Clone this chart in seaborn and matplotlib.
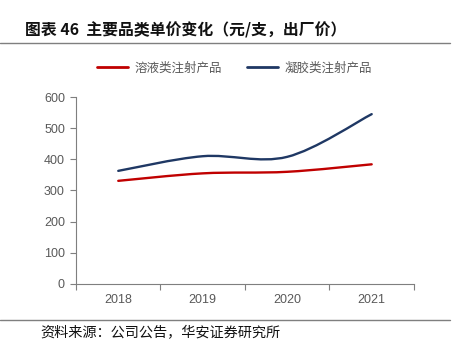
import matplotlib
matplotlib.use("Agg")
import matplotlib.pyplot as plt
import seaborn as sns
import pandas as pd
import numpy as np
from matplotlib.path import Path
from matplotlib.patches import PathPatch
from matplotlib.lines import Line2D

years = ["2018", "2019", "2020", "2021"]
solution = [331, 355, 360, 384]
gel = [363, 410, 408, 545]
series_names = ["溶液类注射产品", "凝胶类注射产品"]
colors = ["#C00000", "#1F3864"]
yticks = [0, 100, 200, 300, 400, 500, 600]

sns.set_theme(style="white")
plt.rcParams['font.family'] = ['Noto Sans CJK SC', 'DejaVu Sans']

df = pd.DataFrame({
    "x": list(range(len(years))) * 2,
    "value": solution + gel,
    "series": [series_names[0]] * len(years) + [series_names[1]] * len(years),
})

fig = plt.figure(figsize=(4.61, 3.53), dpi=100)
ax = fig.add_axes([0.1649, 0.1955, 0.733, 0.5297])

sns.lineplot(data=df, x="x", y="value", hue="series", palette=colors,
             linewidth=1.6, ax=ax, legend=False, sort=False)


def smooth_path(xs, ys, t=0.5):
    xs = np.asarray(xs, float); ys = np.asarray(ys, float)
    n = len(xs)
    verts = [(xs[0], ys[0])]
    codes = [Path.MOVETO]
    for i in range(n - 1):
        p0 = (xs[i - 1], ys[i - 1]) if i > 0 else (xs[i], ys[i])
        p1 = (xs[i], ys[i])
        p2 = (xs[i + 1], ys[i + 1])
        p3 = (xs[i + 2], ys[i + 2]) if i + 2 < n else (xs[i + 1], ys[i + 1])
        c1 = (p1[0] + (p2[0] - p0[0]) * t / 3, p1[1] + (p2[1] - p0[1]) * t / 3)
        c2 = (p2[0] - (p3[0] - p1[0]) * t / 3, p2[1] - (p3[1] - p1[1]) * t / 3)
        verts += [c1, c2, p2]
        codes += [Path.CURVE4] * 3
    return Path(verts, codes)


for line, col in zip(ax.get_lines(), colors):
    xd, yd = line.get_xdata(), line.get_ydata()
    line.set_visible(False)
    patch = PathPatch(smooth_path(xd, yd, t=0.5), facecolor="none", edgecolor=col,
                      linewidth=1.7, capstyle="round", transform=ax.transData)
    ax.add_patch(patch)

tick_font = ["Liberation Sans", "DejaVu Sans"]
ax.set_xlim(-0.5, len(years) - 0.5)
ax.set_ylim(0, 600)
ax.set_yticks(yticks)
ax.set_xticks(range(len(years)))
ax.set_xticklabels(years)
ax.set_xticks(np.arange(-0.5, len(years)), minor=True)
ax.tick_params(axis="x", which="major", length=0, pad=7, labelsize=9, labelcolor="#595959")
ax.tick_params(axis="x", which="minor", length=4, width=0.8, color="#7f7f7f", direction="out", bottom=True)
ax.tick_params(axis="y", which="major", length=4, width=0.8, color="#7f7f7f", direction="out",
               left=True, labelsize=9, labelcolor="#595959", pad=4)
for lab in ax.get_xticklabels() + ax.get_yticklabels():
    lab.set_fontfamily(tick_font)
ax.set_xlabel("")
ax.set_ylabel("")
for s in ["top", "right"]:
    ax.spines[s].set_visible(False)
for s in ["left", "bottom"]:
    ax.spines[s].set_color("#7f7f7f")
    ax.spines[s].set_linewidth(0.8)

handles = [Line2D([], [], color=c, linewidth=2) for c in colors]
fig.legend(handles, series_names, loc="center", bbox_to_anchor=(0.508, 0.807), ncol=2,
           frameon=False, fontsize=9, labelcolor="#595959", handlelength=2.5,
           columnspacing=2.0, handletextpad=0.5)

fig.text(25 / 461, 1 - 30 / 353, "图表 46  主要品类单价变化（元/支，出厂价）",
         fontsize=11.4, fontweight="bold", color="#111111", ha="left", va="center")
fig.add_artist(Line2D([0, 450 / 461], [1 - 43 / 353, 1 - 43 / 353], color="#7f7f7f", linewidth=1.0))
fig.add_artist(Line2D([0, 450 / 461], [1 - 320 / 353, 1 - 320 / 353], color="#7f7f7f", linewidth=1.0))
fig.text(40 / 461, 1 - 333 / 353, "资料来源：公司公告，华安证券研究所",
         fontsize=10.2, color="#111111", ha="left", va="center")

fig.savefig("out.png", dpi=100)
